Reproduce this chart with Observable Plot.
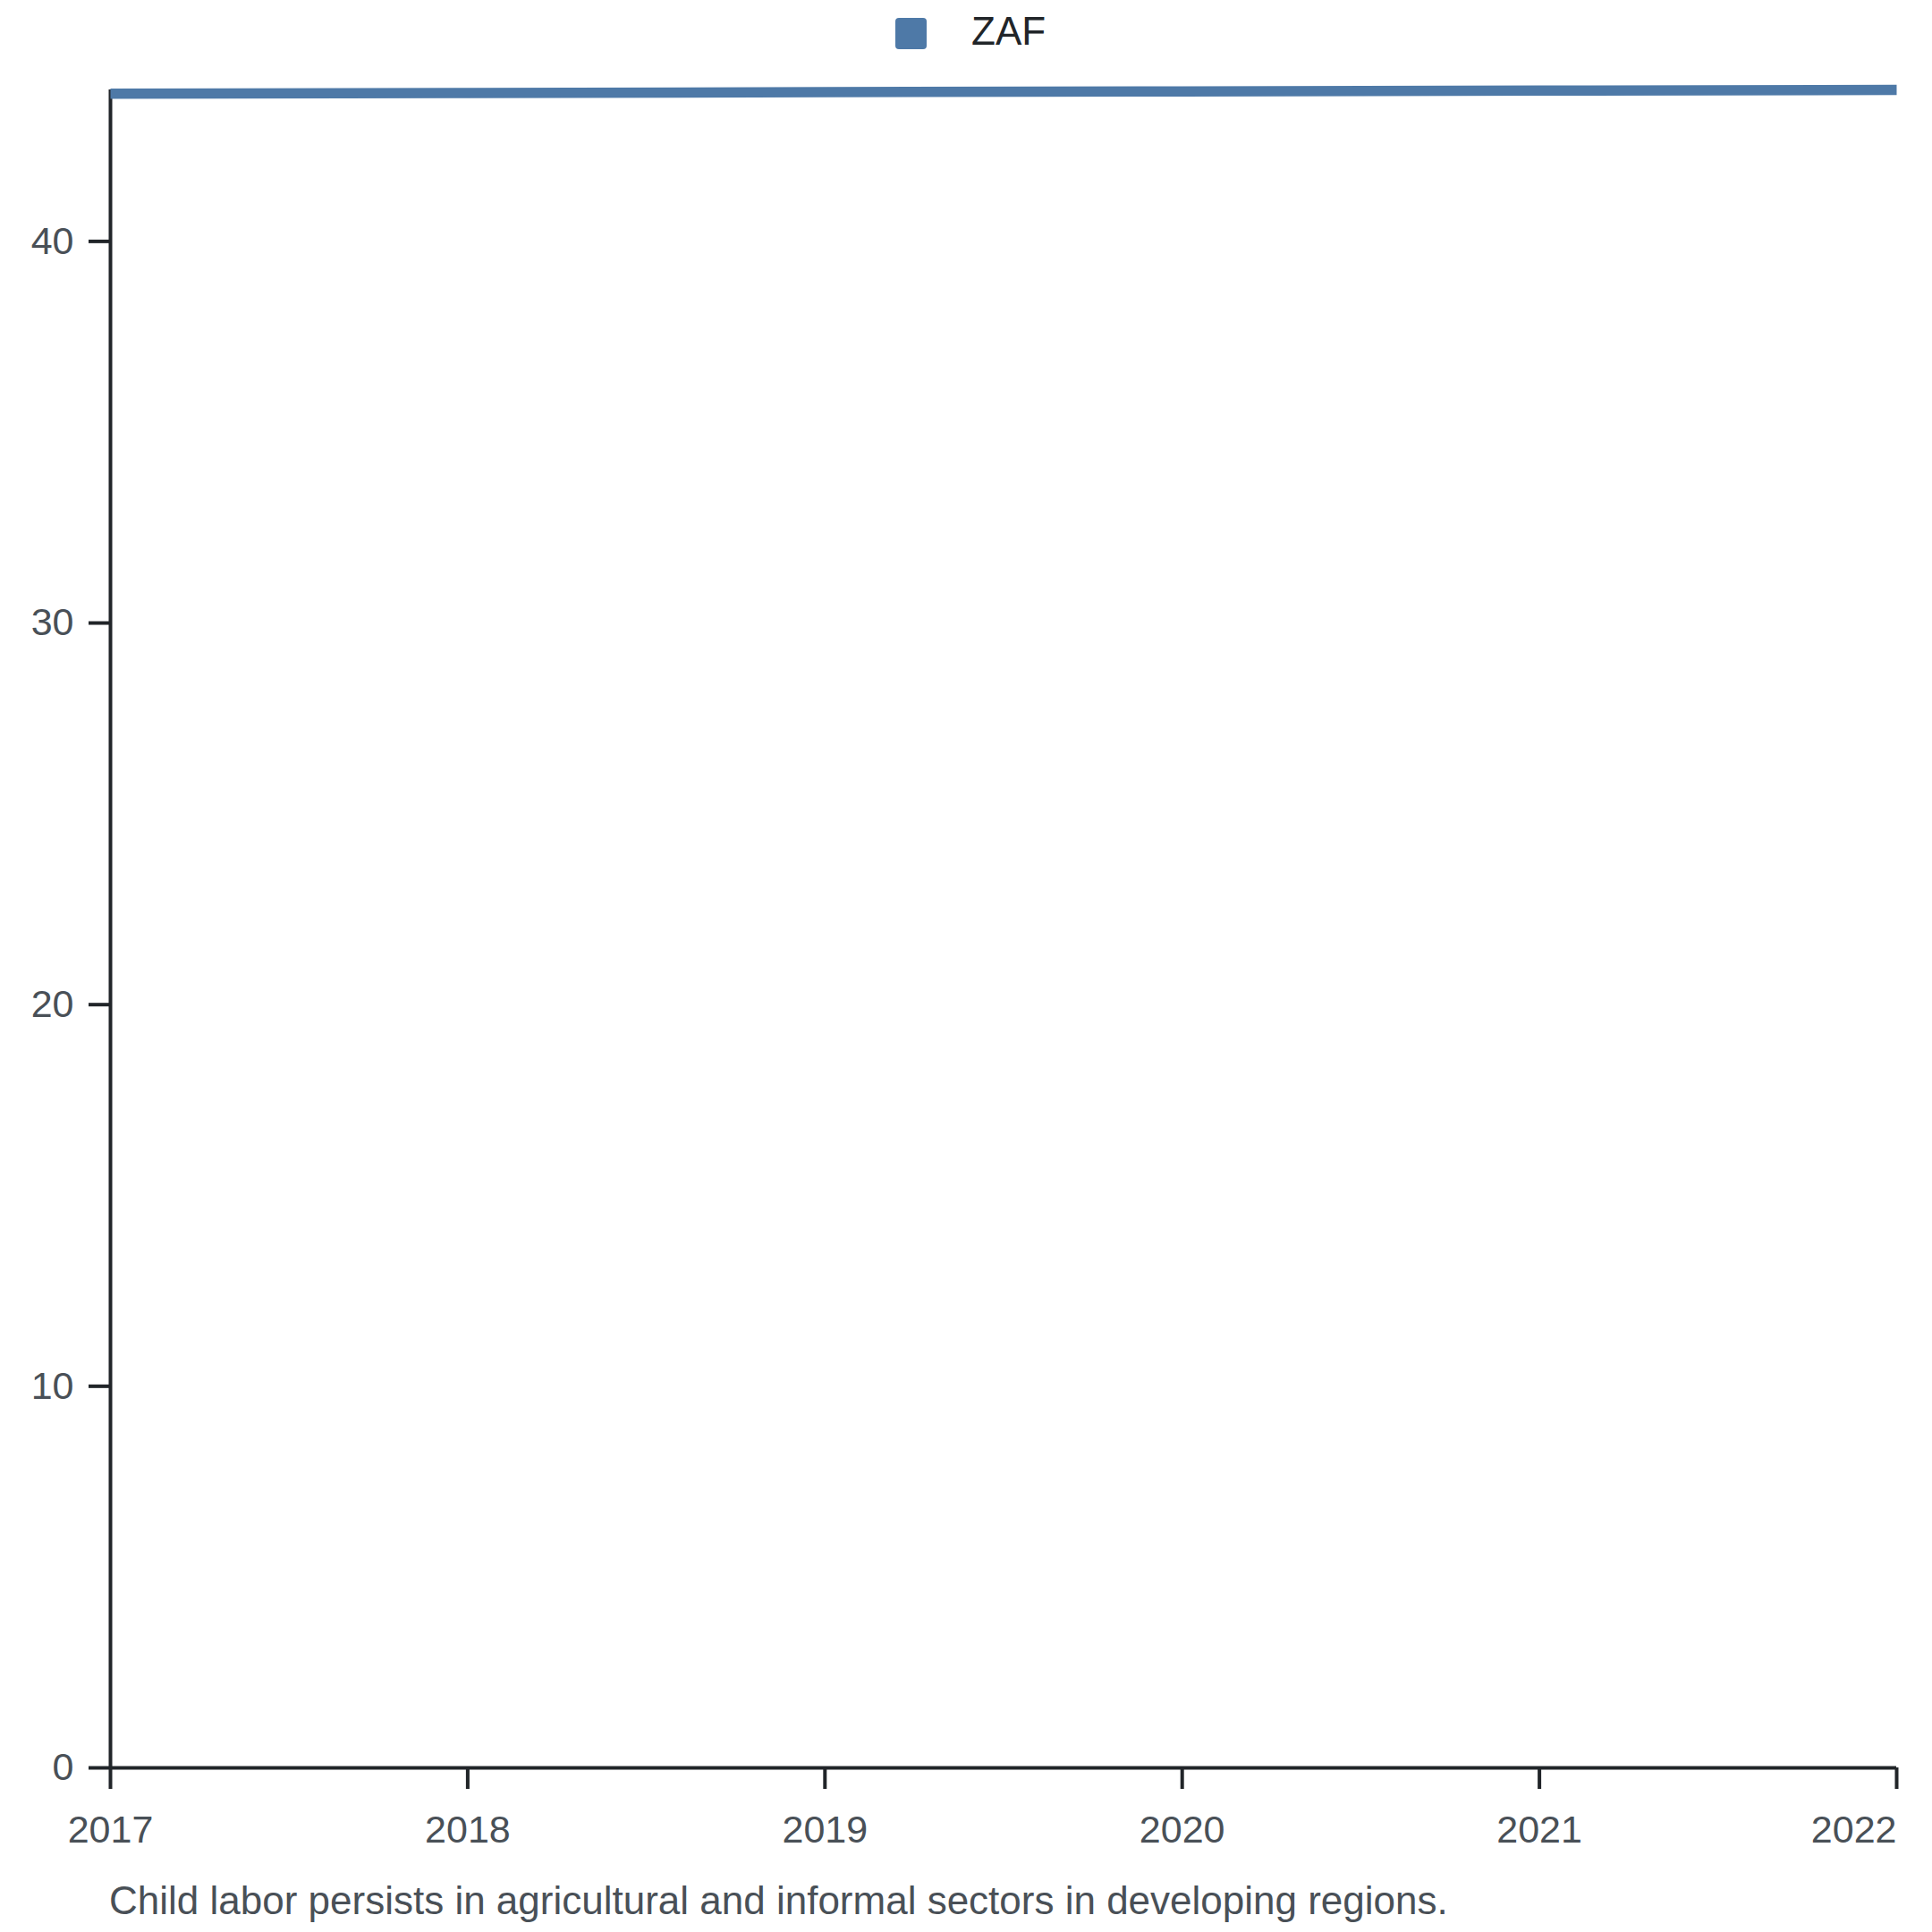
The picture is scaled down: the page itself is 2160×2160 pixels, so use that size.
<!DOCTYPE html>
<html>
<head>
<meta charset="utf-8">
<script src="https://cdn.jsdelivr.net/npm/d3@7"></script>
<script src="https://cdn.jsdelivr.net/npm/@observablehq/plot@0.6"></script>
<style>
  html, body { margin: 0; padding: 0; background: #fff; }
  body { font-family: "Liberation Sans", Arial, sans-serif; width: 2160px; }
  #legend { position: relative; height: 60px; }
  #legend .sw { position: absolute; left: 1001px; top: 20px; width: 35px; height: 35px; border-radius: 4px; }
  #legend .lb { position: absolute; left: 1086px; top: 10px; font-size: 44px; line-height: normal; color: #212529; }
  #chart svg { display: block; }
  #caption { margin-top: 10px; padding-left: 122px; font-size: 44px; line-height: normal; color: #495057; }
</style>
</head>
<body>
<div id="legend"></div>
<div id="chart"></div>
<div id="caption"></div>
<script>
const seriesName = "ZAF";
const years = [2017, 2018, 2019, 2020, 2021, 2022];
const values = [43.87, 43.89, 43.91, 43.93, 43.95, 43.97];
const yTicks = [0, 10, 20, 30, 40];
const captionText = "Child labor persists in agricultural and informal sectors in developing regions.";
const lineColor = "#4e79a7";

const data = years.map((year, i) => ({year, value: values[i], series: seriesName}));

const legend = document.getElementById("legend");
legend.innerHTML = `<div class="sw" style="background:${lineColor}"></div><div class="lb">${seriesName}</div>`;
document.getElementById("caption").textContent = captionText;

const axisStyle = {label: null, tickSize: 24, strokeWidth: 4, stroke: "#212529", fill: "#495057", fontSize: 43};

const chart = Plot.plot({
  width: 2160,
  height: 2030,
  marginLeft: 123,
  marginRight: 40,
  marginTop: 40,
  marginBottom: 114,
  style: {fontFamily: "Liberation Sans, Arial, sans-serif", background: "#fff"},
  x: {type: "linear", domain: d3.extent(years), axis: null, label: null},
  y: {domain: [0, d3.max(values)], axis: null, label: null},
  marks: [
    Plot.axisY({...axisStyle, ticks: yTicks, tickPadding: 17, tickFormat: d => String(d)}),
    Plot.axisX({...axisStyle, ticks: years.slice(0, -1), tickPadding: 29, tickFormat: d => String(d)}),
    Plot.axisX({...axisStyle, ticks: years.slice(-1), tickPadding: 29, textAnchor: "end", tickFormat: d => String(d)}),
    Plot.ruleY([0], {stroke: "#212529", strokeWidth: 4}),
    Plot.ruleX([years[0]], {stroke: "#212529", strokeWidth: 4}),
    Plot.line(data, {x: "year", y: "value", stroke: lineColor, strokeWidth: 11.5, strokeLinecap: "butt", strokeLinejoin: "round"})
  ]
});
document.getElementById("chart").appendChild(chart);
</script>
</body>
</html>
